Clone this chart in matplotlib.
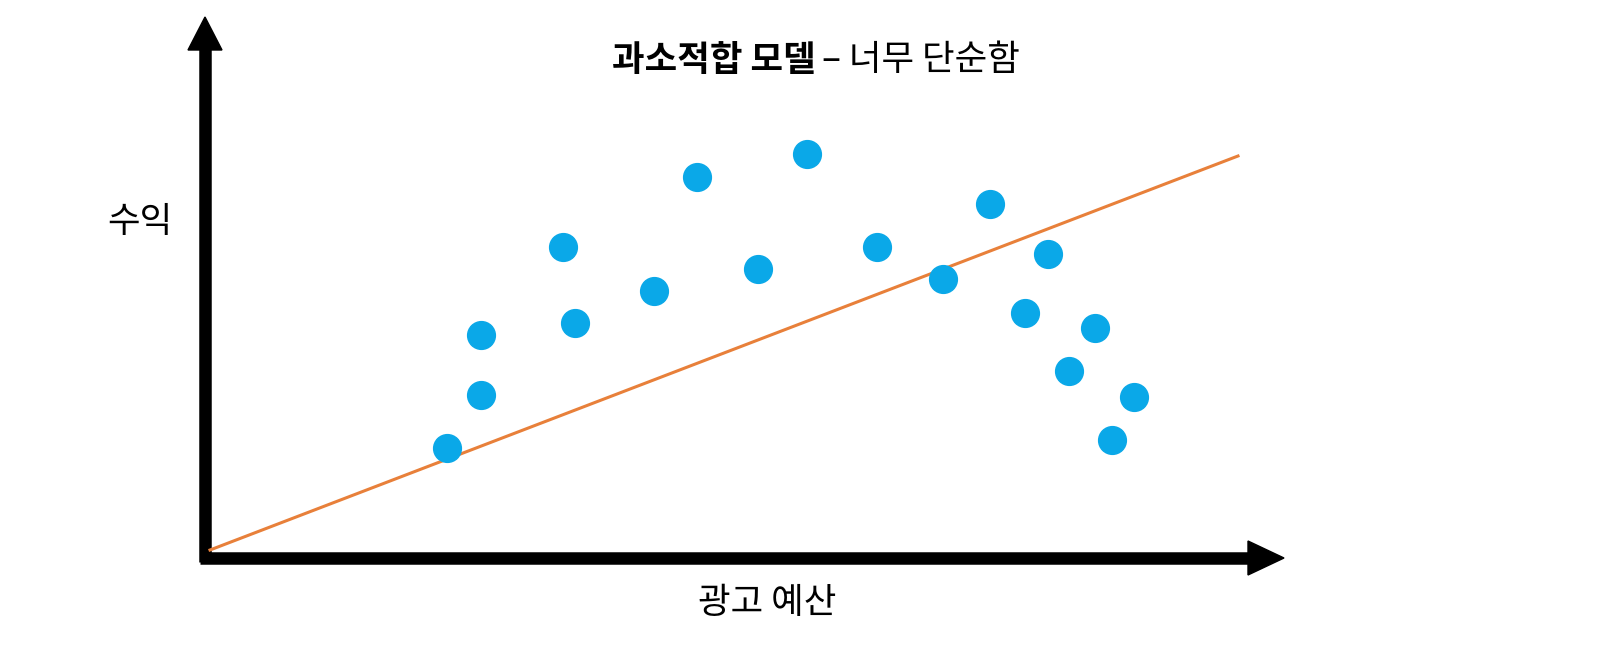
import matplotlib
matplotlib.use("Agg")
import matplotlib.pyplot as plt

W, H = 1616, 656
x_pts = [447, 481, 481, 563, 575, 654, 697, 758, 807, 877, 943, 990, 1025, 1048, 1069, 1095, 1112, 1134]
y_pix = [448, 395, 335, 247, 323, 291, 177, 269, 154, 247, 279, 204, 313, 254, 371, 328, 440, 397]
y_pts = [H - v for v in y_pix]
line_x = [210, 1238]
line_y = [H - 550, H - 156]

plt.rcParams['font.family'] = ['Noto Sans CJK KR', 'DejaVu Sans']
fig = plt.figure(figsize=(16.16, 6.56), dpi=100)
ax = fig.add_axes([0, 0, 1, 1])
ax.set_xlim(0, W); ax.set_ylim(0, H); ax.axis('off')

ax.plot([205, 205], [H - 562, H - 45], color='black', lw=9, solid_capstyle='butt')
ax.plot([200, 1250], [H - 558, H - 558], color='black', lw=9, solid_capstyle='butt')
ax.fill([188, 222, 205], [H - 50, H - 50, H - 17], color='black')
ax.fill([1248, 1248, 1284], [H - 541, H - 575, H - 558], color='black')

ax.plot(line_x, line_y, color='#E8803A', lw=2.2)
ax.scatter(x_pts, y_pts, s=400, color='#0AA8E8', zorder=3)

ax.text(816, H - 60, '과소적합 모델', fontsize=25.5, fontweight='bold', ha='right', va='center')
ax.text(822, H - 60, '– 너무 단순함', fontsize=25.5, ha='left', va='center')
ax.text(140, H - 222, '수익', fontsize=25.5, ha='center', va='center')
ax.text(767, H - 603, '광고 예산', fontsize=25.5, ha='center', va='center')

fig.savefig('out.png', dpi=100, facecolor='white')
